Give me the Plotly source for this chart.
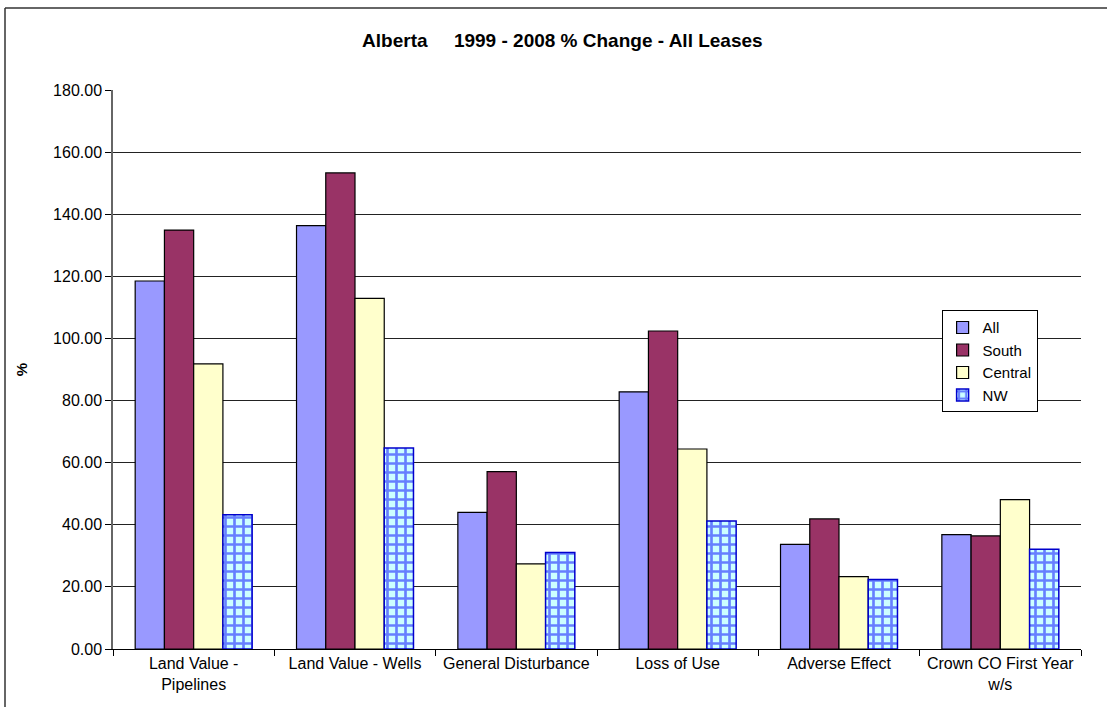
import plotly.graph_objects as go

categories = ["Land Value -<br>Pipelines", "Land Value - Wells", "General Disturbance",
              "Loss of Use", "Adverse Effect", "Crown CO First Year<br>w/s"]
all_vals = [118.5, 136.3, 44.0, 82.8, 33.7, 36.8]
south_vals = [134.9, 153.3, 57.1, 102.4, 41.9, 36.4]
central_vals = [91.8, 112.9, 27.4, 64.4, 23.3, 48.1]
nw_vals = [43.2, 64.7, 31.1, 41.2, 22.4, 32.1]

title_text = "Alberta\u00a0\u00a0\u00a0\u00a0 1999 - 2008 % Change - All Leases"
y_ticks = [0, 20, 40, 60, 80, 100, 120, 140, 160, 180]

FONT = "Liberation Sans, Arial, sans-serif"
line = dict(color="#000000", width=1.2)

fig = go.Figure()
fig.add_trace(go.Bar(name="All", x=categories, y=all_vals,
                     marker=dict(color="#9999FF", line=line)))
fig.add_trace(go.Bar(name="South", x=categories, y=south_vals,
                     marker=dict(color="#993366", line=line)))
fig.add_trace(go.Bar(name="Central", x=categories, y=central_vals,
                     marker=dict(color="#FFFFCC", line=line)))
fig.add_trace(go.Bar(name="NW", x=categories, y=nw_vals,
                     marker=dict(color="#CCFFFF", line=dict(color="#0000CC", width=1.5),
                                 pattern=dict(shape="+", fgcolor="#0000FF", bgcolor="#CCFFFF",
                                              size=9, solidity=0.5, fillmode="overlay"))))

fig.update_layout(
    width=1107, height=707,
    margin=dict(l=113, r=26, t=90, b=58),
    paper_bgcolor="white", plot_bgcolor="white",
    barmode="group", bargap=0.275, bargroupgap=0,
    font=dict(family=FONT, size=16, color="#000000"),
    title=dict(text="<b>" + title_text + "</b>", x=0.508, xref="container", xanchor="center",
               y=1 - 40 / 707, yref="container", yanchor="middle",
               font=dict(family=FONT, size=19, color="#000000")),
    legend=dict(x=0.856, y=0.606, xanchor="left", yanchor="top",
                bordercolor="#000000", borderwidth=1, bgcolor="white",
                font=dict(family=FONT, size=15), itemwidth=30, tracegroupgap=0),
    showlegend=True,
)
fig.update_xaxes(type="category", showline=True, linecolor="#000000", linewidth=1,
                 ticks="outside", tickson="boundaries", ticklen=6, tickcolor="#000000",
                 showgrid=False, tickfont=dict(family=FONT, size=16))
fig.update_yaxes(range=[0, 180], tickvals=y_ticks, tickformat=".2f",
                 showline=True, linecolor="#666666", linewidth=1.5,
                 ticks="outside", ticklen=6, tickcolor="#000000",
                 showgrid=True, gridcolor="#222222", gridwidth=1, zeroline=False,
                 tickfont=dict(family=FONT, size=16),
                 title=dict(text="<b>%</b>", font=dict(family=FONT, size=15), standoff=22))

# chart-area frame (top and left edges visible)
x_left = (5 - 113) / 968
y_top = (649 - 8) / 559
fig.add_shape(type="line", xref="paper", yref="paper", x0=x_left, x1=1.1, y0=y_top, y1=y_top,
              line=dict(color="#333333", width=1.5))
fig.add_shape(type="line", xref="paper", yref="paper", x0=x_left, x1=x_left, y0=y_top, y1=-0.2,
              line=dict(color="#333333", width=1.5))

fig.write_html("out.html")
